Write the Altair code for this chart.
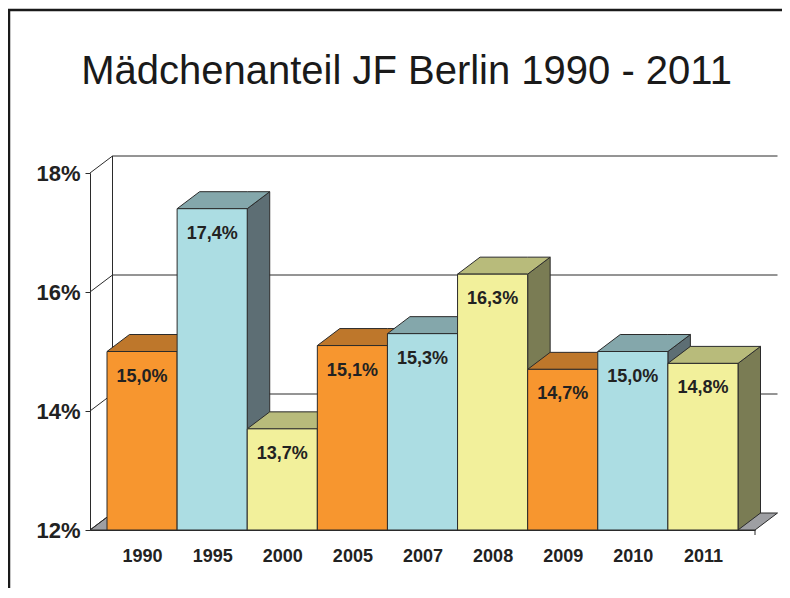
import altair as alt
import pandas as pd

# ---------------- data ----------------
years = ["1990", "1995", "2000", "2005", "2007", "2008", "2009", "2010", "2011"]
values = [15.0, 17.4, 13.7, 15.1, 15.3, 16.3, 14.7, 15.0, 14.8]
bar_group = ["orange", "blue", "yellow", "orange", "blue", "yellow", "orange", "blue", "yellow"]
y_ticks = [12, 14, 16, 18]
title_text = "Mädchenanteil JF Berlin 1990 - 2011"

# ---------------- style ----------------
group_names = ["orange", "blue", "yellow"]
front_colors = ["#F7962F", "#ACDDE3", "#F2F09B"]
top_colors = ["#BE772B", "#84A7AB", "#B8BB7B"]
side_colors = ["#8B5A22", "#5D6E74", "#7A7C54"]
floor_color = "#9E9FA3"
edge = "#2B2B2B"
FONT = "Liberation Sans"

W, H = 665, 357
PAD_L, PAD_T, PAD_R, PAD_B = 82, 165, 27, 58
Y_MIN, Y_MAX = 12, 18
SIDE_PAD = 17
n = len(years)
bar_px = (W - 2 * SIDE_PAD) / n
x_lo = -SIDE_PAD / bar_px
x_hi = n + SIDE_PAD / bar_px
DX = 22.5 / bar_px
DY = 17 * (Y_MAX - Y_MIN) / H

# ---------------- derived tables ----------------
front_rows, top_rows, side_rows, label_rows = [], [], [], []
for i, (yr, v, g) in enumerate(zip(years, values, bar_group)):
    L, R = i, i + 1
    front_rows.append(dict(bar=i, grp=g, x=L, x2=R, y=Y_MIN, y2=v))
    for xx, a, b in [(L, v, v), (L + DX, v, v + DY), (R, v, v + DY), (R + DX, v + DY, v + DY)]:
        top_rows.append(dict(bar=i, grp=g, x=xx, y=a, y2=b))
    for xx, a, b in [(R, Y_MIN, v), (R + DX, Y_MIN + DY, v + DY)]:
        side_rows.append(dict(bar=i, grp=g, x=xx, y=a, y2=b))
    label_rows.append(dict(x=i + 0.5, y=v, txt=f"{v:.1f}".replace(".", ",") + "%"))

floor_rows = [
    dict(x=x_lo, y=Y_MIN, y2=Y_MIN),
    dict(x=x_lo + DX, y=Y_MIN, y2=Y_MIN + DY),
    dict(x=x_hi, y=Y_MIN, y2=Y_MIN + DY),
    dict(x=x_hi + DX, y=Y_MIN + DY, y2=Y_MIN + DY),
]

wall_rows = []
for g in y_ticks[1:]:
    wall_rows.append(dict(x=x_lo + DX, x2=x_hi + DX, y=g + DY, y2=g + DY))
for g in y_ticks:
    wall_rows.append(dict(x=x_lo, x2=x_lo + DX, y=g, y2=g + DY))
wall_rows.append(dict(x=x_lo + DX, x2=x_lo + DX, y=Y_MIN + DY, y2=Y_MAX + DY))

front_df = pd.DataFrame(front_rows)
top_df = pd.DataFrame(top_rows)
side_df = pd.DataFrame(side_rows)
label_df = pd.DataFrame(label_rows)
floor_df = pd.DataFrame(floor_rows)
wall_df = pd.DataFrame(wall_rows)

# ---------------- scales / axes ----------------
xscale = alt.Scale(domain=[x_lo, x_hi], nice=False, zero=False)
yscale = alt.Scale(domain=[Y_MIN, Y_MAX], nice=False, zero=False)

year_js = "[" + ",".join(f"'{y}'" for y in years) + "]"
xaxis = alt.Axis(
    values=[i + 0.5 for i in range(n)],
    labelExpr=f"{year_js}[round(datum.value - 0.5)]",
    ticks=False, grid=False, domain=True, domainColor=edge, domainWidth=1,
    labelFont=FONT, labelFontSize=18, labelFontWeight="bold", labelColor="#222222",
    labelPadding=17, labelOverlap=False, labelFlush=False, title=None,
)
yaxis = alt.Axis(
    values=y_ticks, labelExpr="datum.value + '%'",
    ticks=True, tickSize=5, tickColor=edge, grid=False, domain=True, domainColor=edge,
    labelFont=FONT, labelFontSize=22, labelFontWeight="bold", labelColor="#222222",
    labelPadding=5, title=None,
)


def X(f="x"):
    return alt.X(f"{f}:Q", scale=xscale, axis=xaxis)


def Y(f="y"):
    return alt.Y(f"{f}:Q", scale=yscale, axis=yaxis, stack=None)


floor = alt.Chart(floor_df).mark_area(
    orient="vertical", fill=floor_color, stroke=edge, strokeWidth=1
).encode(x=X(), y=Y(), y2="y2:Q")

wall = alt.Chart(wall_df).mark_rule(color=edge, strokeWidth=1).encode(
    x=X(), x2="x2:Q", y=Y(), y2="y2:Q"
)

end_tick = alt.Chart(pd.DataFrame([dict(x=x_hi, y=Y_MIN)])).mark_rule(
    color=edge, strokeWidth=1
).encode(x=X(), y=Y(), y2=alt.value(H + 5))

sides = alt.Chart(side_df).mark_area(
    orient="vertical", stroke=edge, strokeWidth=1, fillOpacity=1
).encode(
    x=X(), y=Y(), y2="y2:Q", detail="bar:N",
    color=alt.Color("grp:N", scale=alt.Scale(domain=group_names, range=side_colors), legend=None),
)

tops = alt.Chart(top_df).mark_area(
    orient="vertical", stroke=edge, strokeWidth=1, fillOpacity=1
).encode(
    x=X(), y=Y(), y2="y2:Q", detail="bar:N",
    color=alt.Color("grp:N", scale=alt.Scale(domain=group_names, range=top_colors), legend=None),
)

fronts = alt.Chart(front_df).mark_rect(stroke=edge, strokeWidth=1).encode(
    x=X(), x2="x2:Q", y=Y(), y2="y2:Q",
    color=alt.Color("grp:N", scale=alt.Scale(domain=group_names, range=front_colors), legend=None),
)

labels = alt.Chart(label_df).mark_text(
    font=FONT, fontSize=18, fontWeight="bold", color="#222222", baseline="middle", dy=25
).encode(x=X(), y=Y(), text="txt:N")

frame_df = pd.DataFrame([dict(a=0)])
frame_top = alt.Chart(frame_df).mark_rule(color="#1a1a1a", strokeWidth=2.5).encode(
    x=alt.value(-PAD_L), x2=alt.value(W + PAD_R), y=alt.value(10 - 8 - PAD_T)
)
frame_left = alt.Chart(frame_df).mark_rule(color="#1a1a1a", strokeWidth=2.5).encode(
    x=alt.value(9 - 8 - PAD_L), y=alt.value(10 - 8 - PAD_T), y2=alt.value(H + PAD_B)
)

chart = alt.layer(
    floor, wall, end_tick, sides, tops, fronts, labels, frame_top, frame_left
).resolve_scale(color="independent").properties(
    width=W, height=H,
    padding={"left": PAD_L, "top": PAD_T, "right": PAD_R, "bottom": PAD_B},
    autosize=alt.AutoSizeParams(type="none"),
    title=alt.TitleParams(
        title_text, font=FONT, fontSize=40, fontWeight="normal", color="#1a1a1a",
        anchor="middle", frame="group", baseline="alphabetic", offset=0, dx=-16, dy=115,
    ),
    background="white",
).configure_view(stroke=None)

chart.save("out.html", embed_options={"renderer": "svg", "actions": False})
